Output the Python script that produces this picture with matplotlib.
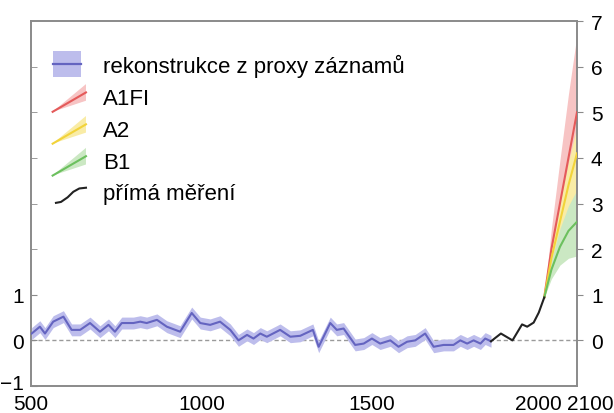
import matplotlib
matplotlib.use("Agg")
import matplotlib.pyplot as plt
import matplotlib.transforms as mtransforms
from matplotlib.legend_handler import HandlerBase
from matplotlib.patches import Rectangle, Polygon
from matplotlib.lines import Line2D

plt.rcParams['font.family'] = ['Liberation Sans', 'DejaVu Sans']

# proxy reconstruction (years, anomaly)
proxy_years = [502, 526, 541, 565, 595, 619, 644, 673, 702, 727, 746, 766, 800, 820,
               839, 869, 898, 937, 971, 996, 1025, 1054, 1084, 1108, 1133, 1152, 1172,
               1191, 1230, 1260, 1289, 1326, 1343, 1377, 1396, 1416, 1450, 1475, 1499,
               1523, 1553, 1577, 1602, 1626, 1655, 1680, 1709, 1738, 1758, 1778, 1797,
               1817, 1831, 1848]
proxy_vals = [0.15, 0.30, 0.15, 0.41, 0.52, 0.23, 0.23, 0.38, 0.19, 0.34, 0.19, 0.38,
              0.38, 0.41, 0.38, 0.45, 0.30, 0.19, 0.60, 0.38, 0.34, 0.41, 0.23, 0.00,
              0.12, 0.04, 0.15, 0.08, 0.23, 0.08, 0.10, 0.23, -0.14, 0.38, 0.23, 0.26,
              -0.10, -0.07, 0.04, -0.07, 0.00, -0.14, -0.03, 0.00, 0.15, -0.14, -0.10,
              -0.10, 0.00, -0.07, 0.00, -0.07, 0.04, -0.02]
proxy_err = 0.13

# instrumental record
inst_years = [1848, 1877, 1911, 1939, 1954, 1973, 1988, 2004]
inst_vals = [-0.02, 0.15, 0.00, 0.35, 0.30, 0.39, 0.61, 0.94]

# scenario projections
proj_years = [2004, 2025, 2050, 2075, 2100]
a1fi_mid = [0.94, 2.0, 3.0, 4.0, 5.0]
a1fi_lo = [0.94, 1.6, 2.3, 2.9, 3.4]
a1fi_hi = [0.94, 2.45, 3.95, 5.4, 6.7]
a2_mid = [0.94, 1.8, 2.6, 3.4, 4.1]
a2_lo = [0.94, 1.45, 1.95, 2.45, 2.9]
a2_hi = [0.94, 2.05, 3.0, 3.9, 4.7]
b1_mid = [0.94, 1.55, 2.05, 2.4, 2.6]
b1_lo = [0.94, 1.35, 1.65, 1.8, 1.85]
b1_hi = [0.94, 1.75, 2.45, 2.95, 3.3]

labels = ['rekonstrukce z proxy záznamů', 'A1FI', 'A2', 'B1', 'přímá měření']
x_ticks = [500, 1000, 1500, 2000, 2100]
left_ticks = [-1, 0, 1]
right_ticks = [0, 1, 2, 3, 4, 5, 6, 7]

proxy_band, proxy_line = '#bdbdec', '#6464c0'
red_band, red_line = '#f7c4c4', '#e45a5a'
yel_band, yel_line = '#f9eca6', '#f2d33a'
grn_band, grn_line = '#cbe8c3', '#6cc05e'
spine_col = '#8a8a8a'


class BandHandler(HandlerBase):
    def create_artists(self, legend, orig_handle, xd, yd, w, h, fs, trans):
        r = Rectangle((-xd, -yd - 0.2 * h), w * 0.85, h * 1.4, fc=proxy_band, ec='none',
                      transform=trans)
        l = Line2D([-xd, -xd + w * 0.85], [-yd + h / 2] * 2, color=proxy_line, lw=1.6,
                   transform=trans)
        return [r, l]


class WedgeHandler(HandlerBase):
    def __init__(self, band, line):
        super().__init__()
        self.band, self.line = band, line

    def create_artists(self, legend, orig_handle, xd, yd, w, h, fs, trans):
        x0, y0 = -xd, -yd - 0.35 * h
        x1 = -xd + w
        p = Polygon([[x0, y0], [x1, y0 + 1.5 * h], [x1, y0 + 0.6 * h]], closed=True,
                    fc=self.band, ec='none', transform=trans)
        l = Line2D([x0, x1], [y0, y0 + 1.05 * h], color=self.line, lw=1.5, transform=trans)
        return [p, l]


class CurveHandler(HandlerBase):
    def create_artists(self, legend, orig_handle, xd, yd, w, h, fs, trans):
        xs = [-xd + w * f for f in (0.1, 0.25, 0.45, 0.62, 0.8, 1.0)]
        ys = [-yd + h * f for f in (-0.1, -0.05, 0.2, 0.5, 0.68, 0.72)]
        l = Line2D(xs, ys, color='#222222', lw=1.5, transform=trans)
        return [l]


fig = plt.figure(figsize=(6.14, 4.14), dpi=100)
ax = fig.add_axes([31 / 614, 1 - 387 / 414, 546 / 614, 365 / 414])

ax.axhline(0, color='#9a9a9a', lw=1.0, ls=(0, (3, 2)), zorder=1)

plo = [v - proxy_err for v in proxy_vals]
phi = [v + proxy_err for v in proxy_vals]
ax.fill_between(proxy_years, plo, phi, color=proxy_band, lw=0, zorder=2)
ax.plot(proxy_years, proxy_vals, color=proxy_line, lw=1.5, zorder=3)

ax.fill_between(proj_years, a1fi_lo, a1fi_hi, color=red_band, lw=0, zorder=2)
ax.fill_between(proj_years, a2_lo, a2_hi, color=yel_band, lw=0, zorder=2)
ax.fill_between(proj_years, b1_lo, b1_hi, color=grn_band, lw=0, zorder=2)
ax.plot(proj_years, a1fi_mid, color=red_line, lw=1.5, zorder=3)
ax.plot(proj_years, a2_mid, color=yel_line, lw=1.5, zorder=3)
ax.plot(proj_years, b1_mid, color=grn_line, lw=1.5, zorder=3)

ax.plot(inst_years, inst_vals, color='#222222', lw=1.5, zorder=4)

ax.set_xlim(500, 2100)
ax.set_ylim(-1, 7)

for s in ax.spines.values():
    s.set_color(spine_col)
    s.set_linewidth(1.4)

ax.set_xticks(x_ticks)
ax.set_xticklabels([str(t) for t in x_ticks])
ax.set_xticks([1000, 1500, 2000], minor=True)
ax.tick_params(axis='x', which='major', length=0, pad=6, labelsize=15)
ax.tick_params(axis='x', which='minor', direction='in', length=4, color=spine_col,
               top=True, bottom=True)
xl = ax.get_xticklabels()
for lab, dx in ((xl[3], -0.04), (xl[4], 0.13)):
    lab.set_transform(lab.get_transform() +
                      mtransforms.ScaledTranslation(dx, 0, fig.dpi_scale_trans))

ax.set_yticks(left_ticks)
ax.set_yticks([2, 3, 4, 5, 6], minor=True)
ax.tick_params(axis='y', which='both', direction='in', length=4, color=spine_col,
               labelsize=15, pad=5)
yl = ax.get_yticklabels()
yl[0].set_transform(yl[0].get_transform() +
                    mtransforms.ScaledTranslation(0, 0.04, fig.dpi_scale_trans))

ax2 = ax.twinx()
ax2.set_ylim(-1, 7)
ax2.set_yticks(right_ticks)
ax2.tick_params(axis='y', direction='out', length=4, color=spine_col, labelsize=15, pad=6)
for s in ax2.spines.values():
    s.set_visible(False)

handles = [Rectangle((0, 0), 1, 1), Line2D([], []), Line2D([], []), Line2D([], []),
           Line2D([], [])]
hmap = {handles[0]: BandHandler(),
        handles[1]: WedgeHandler(red_band, red_line),
        handles[2]: WedgeHandler(yel_band, yel_line),
        handles[3]: WedgeHandler(grn_band, grn_line),
        handles[4]: CurveHandler()}
ax.legend(handles, labels, handler_map=hmap, loc='upper left', frameon=False,
          fontsize=16, handlelength=1.5, handleheight=0.9, handletextpad=0.75,
          labelspacing=0.45, bbox_to_anchor=(0.003, 0.965))

fig.savefig('out.png', dpi=100)
